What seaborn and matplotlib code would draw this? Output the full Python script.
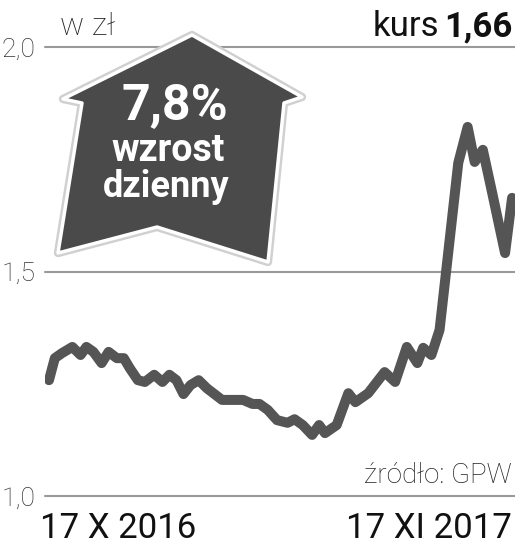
import numpy as np
import pandas as pd
import matplotlib
matplotlib.use('Agg')
import matplotlib.pyplot as plt
import matplotlib.transforms as mtransforms
from matplotlib.patches import Polygon
import seaborn as sns

# Share price, days counted from 17 X 2016
days = [0, 5, 11, 20, 27, 32, 38, 45, 51, 58, 64, 69, 76, 82, 90, 97, 103, 109,
        115, 121, 128, 135, 148, 166, 174, 180, 187, 195, 204, 210, 217, 225, 231,
        236, 246, 256, 262, 273, 287, 296, 306, 315, 320, 327, 334, 350, 358, 364,
        371, 379, 390, 396]
price = [1.258, 1.307, 1.318, 1.332, 1.314, 1.332, 1.321, 1.296, 1.321, 1.307,
         1.307, 1.285, 1.258, 1.254, 1.270, 1.254, 1.270, 1.258, 1.227, 1.247,
         1.258, 1.240, 1.214, 1.214, 1.205, 1.205, 1.192, 1.169, 1.163, 1.171,
         1.158, 1.136, 1.158, 1.140, 1.158, 1.229, 1.209, 1.229, 1.276, 1.254,
         1.332, 1.296, 1.330, 1.314, 1.370, 1.742, 1.822, 1.744, 1.771, 1.675,
         1.541, 1.664]
y_ticks = [1.0, 1.5, 2.0]
y_labels = ['1,0', '1,5', '2,0']
x_labels = ['17 X 2016', '17 XI 2017']

df = pd.DataFrame({'day': days, 'price': price})

sns.set_style('white')
plt.rcParams['font.family'] = ['Roboto', 'DejaVu Sans']

fig = plt.figure(figsize=(5.15, 5.46), dpi=100)
ax = fig.add_axes([45 / 515, 50 / 546, 470 / 515, 449 / 546])

sns.lineplot(data=df, x='day', y='price', ax=ax, color='#555555', lw=7.2,
             solid_joinstyle='round', solid_capstyle='round', zorder=3)

ax.set_xlim(-3.4, 398.5)
ax.set_ylim(1.0, 2.0)
ax.set_yticks(y_ticks)
ax.set_yticklabels(y_labels, fontsize=19, color='#333333', fontweight='light')
ax.tick_params(axis='y', length=0, pad=7)
ax.set_xticks([])
ax.set_xlabel('')
ax.set_ylabel('')
for s in ax.spines.values():
    s.set_visible(False)
for v in y_ticks:
    ax.axhline(v, color='#999999', lw=1.5, zorder=1, clip_on=False)

# figure pixel coordinates (origin top-left)
px = mtransforms.Affine2D().scale(1 / 515, -1 / 546).translate(0, 1) + fig.transFigure

fig.text(60, 35, 'w zł', transform=px, fontsize=23, color='#222222',
         ha='left', va='baseline', fontweight='light')
fig.text(439, 36, 'kurs', transform=px, fontsize=25, color='#111111',
         ha='right', va='baseline')
fig.text(513, 36, '1,66', transform=px, fontsize=25, color='#111111',
         ha='right', va='baseline', fontweight='bold')
fig.text(512, 483, 'źródło: GPW', transform=px, fontsize=20, color='#222222',
         ha='right', va='baseline', fontweight='light')
fig.text(40, 538, x_labels[0], transform=px, fontsize=25, color='#111111',
         ha='left', va='baseline')
fig.text(512, 538, x_labels[1], transform=px, fontsize=25, color='#111111',
         ha='right', va='baseline')

# arrow badge
arrow = [(192, 35), (302, 97), (284, 103), (268, 262), (157, 227),
         (58, 253), (82, 103), (63, 99)]
fig.patches.append(Polygon(arrow, closed=True, transform=px, facecolor='none',
                           edgecolor='#d0d0d0', lw=6, joinstyle='round', zorder=5))
fig.patches.append(Polygon(arrow, closed=True, transform=px, facecolor='#4a4a4a',
                           edgecolor='white', lw=2.5, joinstyle='round', zorder=6))
fig.text(175, 120, '7,8%', transform=px, fontsize=36, color='white',
         ha='center', va='baseline', fontweight='bold', zorder=7)
fig.text(168, 161, 'wzrost', transform=px, fontsize=27, color='white',
         ha='center', va='baseline', fontweight='bold', zorder=7)
fig.text(166, 197, 'dzienny', transform=px, fontsize=26, color='white',
         ha='center', va='baseline', fontweight='bold', zorder=7)

fig.savefig('out.png', dpi=100)
